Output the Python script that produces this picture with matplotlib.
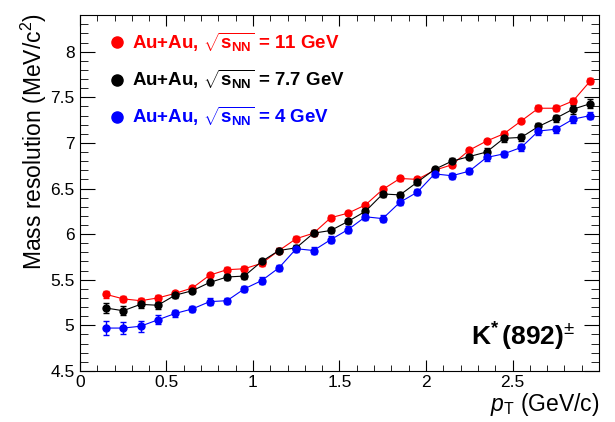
import matplotlib
matplotlib.use('Agg')
import matplotlib.pyplot as plt
from matplotlib.lines import Line2D
from matplotlib.ticker import MultipleLocator, FormatStrFormatter

plt.rcParams['font.family'] = ['Liberation Sans', 'DejaVu Sans']
plt.rcParams['mathtext.fontset'] = 'custom'
plt.rcParams['mathtext.rm'] = 'Liberation Sans'
plt.rcParams['mathtext.it'] = 'Liberation Sans:italic'
plt.rcParams['mathtext.bf'] = 'Liberation Sans:bold'

# pT bin centres (GeV/c)
pt = [0.15, 0.25, 0.35, 0.45, 0.55, 0.65, 0.75, 0.85, 0.95, 1.05,
      1.15, 1.25, 1.35, 1.45, 1.55, 1.65, 1.75, 1.85, 1.95, 2.05,
      2.15, 2.25, 2.35, 2.45, 2.55, 2.65, 2.75, 2.85, 2.95]

# mass resolution (MeV/c^2)
res_11 = [5.34, 5.29, 5.27, 5.30, 5.35, 5.41, 5.55, 5.61, 5.62, 5.68,
          5.82, 5.95, 6.01, 6.18, 6.23, 6.32, 6.49, 6.61, 6.60, 6.70,
          6.76, 6.92, 7.02, 7.10, 7.24, 7.38, 7.38, 7.46, 7.68]
err_11 = [0.04, 0.03, 0.03, 0.03, 0.025, 0.025, 0.025, 0.025, 0.025, 0.025,
          0.025, 0.025, 0.025, 0.025, 0.025, 0.025, 0.025, 0.025, 0.025, 0.025,
          0.025, 0.025, 0.025, 0.025, 0.025, 0.03, 0.03, 0.03, 0.035]

res_77 = [5.19, 5.16, 5.23, 5.22, 5.33, 5.38, 5.47, 5.53, 5.54, 5.70,
          5.82, 5.85, 6.01, 6.04, 6.14, 6.25, 6.44, 6.43, 6.57, 6.71,
          6.80, 6.85, 6.90, 7.05, 7.06, 7.18, 7.27, 7.37, 7.43]
err_77 = [0.06, 0.05, 0.04, 0.04, 0.035, 0.03, 0.03, 0.03, 0.03, 0.03,
          0.03, 0.03, 0.03, 0.03, 0.03, 0.03, 0.03, 0.03, 0.03, 0.03,
          0.03, 0.03, 0.04, 0.04, 0.04, 0.04, 0.04, 0.05, 0.05]

res_4 = [4.97, 4.97, 4.99, 5.06, 5.13, 5.18, 5.26, 5.27, 5.40, 5.49,
         5.63, 5.84, 5.82, 5.94, 6.05, 6.19, 6.17, 6.35, 6.46, 6.66,
         6.64, 6.69, 6.84, 6.88, 6.95, 7.13, 7.15, 7.26, 7.30]
err_4 = [0.08, 0.07, 0.06, 0.05, 0.04, 0.035, 0.035, 0.035, 0.035, 0.035,
         0.035, 0.035, 0.035, 0.035, 0.035, 0.035, 0.035, 0.035, 0.035, 0.035,
         0.035, 0.035, 0.035, 0.035, 0.035, 0.04, 0.04, 0.04, 0.04]

labels = [r'Au+Au, $\mathbf{\sqrt{s_{NN}}}$ = 11 GeV',
          r'Au+Au, $\mathbf{\sqrt{s_{NN}}}$ = 7.7 GeV',
          r'Au+Au, $\mathbf{\sqrt{s_{NN}}}$ = 4 GeV']
colors = ['red', 'black', 'blue']

fig = plt.figure(figsize=(6.15, 4.22), dpi=100)
ax = fig.add_axes([0.130, 0.121, 0.844, 0.843])

for y, e, c in zip([res_11, res_77, res_4], [err_11, err_77, err_4], colors):
    ax.errorbar(pt, y, yerr=e, color=c, marker='o', markersize=5,
                linewidth=0.8, elinewidth=1.0, capsize=2)

ax.set_xlim(0, 3)
ax.set_ylim(4.5, 8.4)
ax.xaxis.set_major_locator(MultipleLocator(0.5))
ax.xaxis.set_minor_locator(MultipleLocator(0.1))
ax.yaxis.set_major_locator(MultipleLocator(0.5))
ax.yaxis.set_minor_locator(MultipleLocator(0.1))
ax.yaxis.set_major_formatter(FormatStrFormatter('%g'))
ax.set_xticks([0, 0.5, 1, 1.5, 2, 2.5])
ax.set_xticklabels(['0', '0.5', '1', '1.5', '2', '2.5'])

ax.tick_params(axis='both', which='both', direction='in', top=True, right=True,
               labelsize=12.5)
ax.tick_params(axis='y', which='major', length=11, pad=4)
ax.tick_params(axis='y', which='minor', length=5.5)
ax.tick_params(axis='x', which='major', length=8, pad=3)
ax.tick_params(axis='x', which='minor', length=4)

ax.set_ylabel(r'Mass resolution (MeV/c$^2$)', fontsize=16.5, loc='top')
ax.yaxis.set_label_coords(-0.06, 1.005)
ax.set_xlabel(r'$p_{\rm T}$ (GeV/c)', fontsize=16.5, loc='right')
ax.xaxis.set_label_coords(1.0, -0.055)

handles = [Line2D([], [], color=c, marker='o', linestyle='none', markersize=8)
           for c in colors]
ax.legend(handles, labels, loc='upper left', bbox_to_anchor=(0.02, 1.004),
          frameon=False, labelcolor=colors, prop={'weight': 'bold', 'size': 13.5},
          handlelength=1.0, handletextpad=0.3, labelspacing=0.75)

ax.text(0.955, 0.07, r'K$^{\mathbf{*}}\,$(892)$^{\pm}$', transform=ax.transAxes,
        ha='right', va='baseline', fontsize=19, fontweight='bold')

fig.savefig('out.png', dpi=100)
